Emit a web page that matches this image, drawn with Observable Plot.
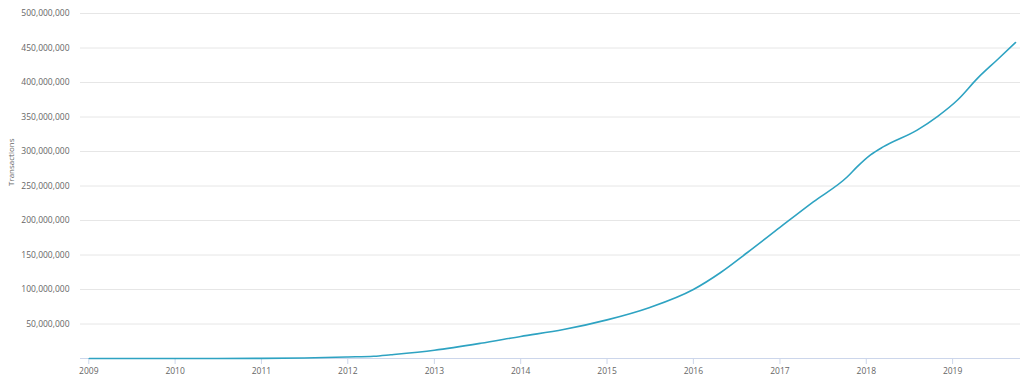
<!DOCTYPE html>
<html>
<head>
<meta charset="utf-8">
<script src="https://cdn.jsdelivr.net/npm/d3@7"></script>
<script src="https://cdn.jsdelivr.net/npm/@observablehq/plot@0.6"></script>
<style>
  html, body { margin: 0; padding: 0; background: #fff; }
  #chart svg { display: block; }
</style>
</head>
<body>
<div id="chart"></div>
<script>
// Cumulative transactions
const dates = [
  "2009-01-03","2010-01-01","2011-01-01","2011-07-01","2012-01-01","2012-04-20",
  "2012-07-01","2013-01-01","2013-07-15","2014-01-01","2014-07-01","2015-01-01",
  "2015-07-01","2016-01-01","2016-04-27","2016-08-18","2017-01-01","2017-05-22",
  "2017-10-12","2017-11-24","2018-01-19","2018-03-15","2018-08-04","2018-10-30",
  "2019-01-23","2019-04-16","2019-07-09","2019-09-24"
];
const transactions = [
  0, 50000, 200000, 800000, 2200000, 3300000,
  5500000, 12000000, 22000000, 32000000, 42000000, 56000000,
  74000000, 100000000, 125000000, 154000000, 190000000, 227000000,
  263000000, 278000000, 295000000, 307000000, 331000000, 351000000,
  375000000, 406000000, 433000000, 458000000
];
const yTicks = [50e6, 100e6, 150e6, 200e6, 250e6, 300e6, 350e6, 400e6, 450e6, 500e6];
const xTickYears = [2009, 2010, 2011, 2012, 2013, 2014, 2015, 2016, 2017, 2018, 2019];
const yLabel = "Transactions";

const data = dates.map((d, i) => ({date: new Date(d), value: transactions[i]}));
const xTicks = xTickYears.map(y => new Date(Date.UTC(y, 0, 1)));

const chart = Plot.plot({
  width: 1024,
  height: 384,
  marginLeft: 80,
  marginRight: 4,
  marginTop: 13,
  marginBottom: 26,
  style: {fontFamily: "'Open Sans', sans-serif", fontSize: "8.5px", color: "#666", background: "#fff"},
  x: {type: "utc", domain: [new Date("2008-11-27"), new Date("2019-10-15")]},
  y: {domain: [0, 500e6]},
  marks: [
    Plot.gridY(yTicks, {stroke: "#e6e6e6", strokeOpacity: 1, strokeWidth: 1}),
    Plot.ruleY([0], {stroke: "#ccd6eb", strokeWidth: 1}),
    Plot.axisY(yTicks, {tickSize: 0, tickPadding: 11, tickFormat: d3.format(","), label: null, fill: "#666", fontSize: 8.5}),
    Plot.axisX(xTicks, {tickSize: 6, tickPadding: 3, tickFormat: d3.utcFormat("%Y"), label: null, stroke: "#ccd6eb", fill: "#666", fontSize: 8.5}),
    Plot.text([yLabel], {frameAnchor: "left", dx: -69, rotate: -90, fill: "#666", fontSize: 8}),
    Plot.line(data, {x: "date", y: "value", stroke: "#2ea3c2", strokeWidth: 1.6, curve: "monotone-x"})
  ]
});
document.getElementById("chart").appendChild(chart);
</script>
</body>
</html>
